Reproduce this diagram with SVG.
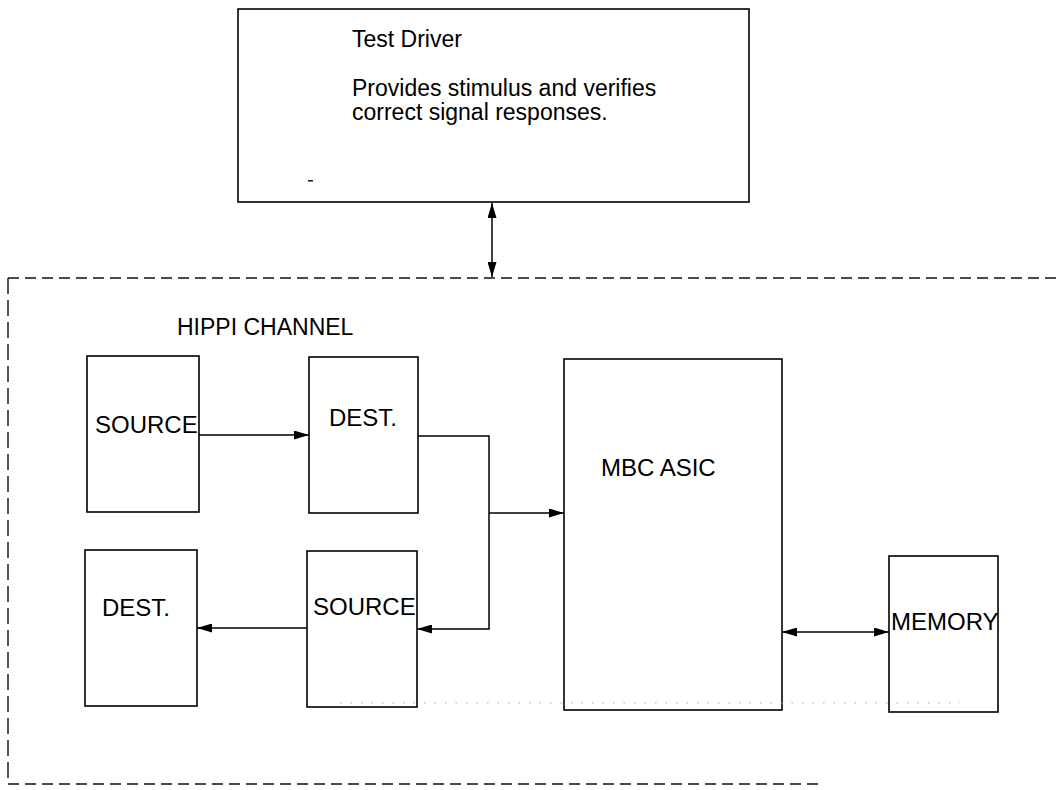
<svg xmlns="http://www.w3.org/2000/svg" width="1059" height="790" viewBox="0 0 1059 790">
  <style>
    .box { fill: #fff; stroke: #000; stroke-width: 1.6; }
    .lbl { font-family: "Liberation Sans", Arial, Helvetica, sans-serif; font-size: 24px; fill: #000; }
    .txt { font-family: "Liberation Sans", Arial, Helvetica, sans-serif; font-size: 23px; fill: #000; }
    .wire { fill: none; stroke: #000; stroke-width: 1.5; }
    .frame { fill: none; stroke: #111; stroke-width: 1.4; stroke-dasharray: 11 6; }
    .speck { fill: none; stroke: #aaa; stroke-width: 1.2; stroke-dasharray: 1.5 9; }
  </style>
  <defs>
    <marker id="arrow" viewBox="0 0 15 9" refX="15" refY="4.5" markerWidth="15" markerHeight="9" markerUnits="userSpaceOnUse" orient="auto-start-reverse">
      <path d="M0,0 L15,4.5 L0,9 Z" fill="#000"/>
    </marker>
  </defs>

  <!-- HIPPI channel boundary (open on the right) -->
  <g id="hippi-channel">
    <line class="frame" x1="8" y1="278" x2="1059" y2="278"/>
    <line class="frame" x1="8" y1="278" x2="8" y2="784" style="stroke-dasharray:16 6"/>
    <line class="frame" x1="8" y1="784" x2="820" y2="784"/>
    <text class="txt" x="177" y="335">HIPPI CHANNEL</text>
  </g>

  <g id="test-driver">
    <rect class="box" x="238" y="9" width="511" height="193"/>
    <text class="txt" x="352" y="47">Test Driver</text>
    <text class="txt" x="352" y="96">Provides stimulus and verifies</text>
    <text class="txt" x="352" y="120">correct signal responses.</text>
    <rect x="308" y="180" width="5" height="1.6" fill="#222"/>
  </g>

  <g id="source-top">
    <rect class="box" x="87" y="356" width="112" height="156"/>
    <text class="lbl" x="95" y="433">SOURCE</text>
  </g>

  <g id="dest-top">
    <rect class="box" x="309" y="357" width="109" height="156"/>
    <text class="lbl" x="329" y="426">DEST.</text>
  </g>

  <g id="dest-bottom">
    <rect class="box" x="85" y="550" width="112" height="156"/>
    <text class="lbl" x="102" y="616">DEST.</text>
  </g>

  <g id="source-bottom">
    <rect class="box" x="307" y="551" width="110" height="156"/>
    <text class="lbl" x="313" y="615">SOURCE</text>
  </g>

  <g id="mbc-asic">
    <rect class="box" x="564" y="359" width="218" height="351"/>
    <text class="lbl" x="601" y="476">MBC ASIC</text>
  </g>

  <g id="memory">
    <rect class="box" x="889" y="556" width="109" height="156"/>
    <text class="lbl" x="891" y="630">MEMORY</text>
  </g>

  <!-- faint dotted trace along the lower boxes -->
  <line class="speck" x1="340" y1="703" x2="960" y2="703"/>

  <g id="connectors">
    <!-- test driver <-> channel -->
    <line class="wire" x1="492" y1="203" x2="492" y2="277" marker-start="url(#arrow)" marker-end="url(#arrow)"/>
    <!-- source -> dest -->
    <line class="wire" x1="199" y1="435" x2="309" y2="435" marker-end="url(#arrow)"/>
    <!-- dest -> loop back to source -->
    <polyline class="wire" points="418,436 489,436 489,629 417,629" marker-end="url(#arrow)"/>
    <!-- branch into MBC ASIC -->
    <line class="wire" x1="489" y1="513" x2="564" y2="513" marker-end="url(#arrow)"/>
    <!-- source -> dest (bottom) -->
    <line class="wire" x1="307" y1="628" x2="197" y2="628" marker-end="url(#arrow)"/>
    <!-- MBC ASIC <-> memory -->
    <line class="wire" x1="782" y1="632" x2="889" y2="632" marker-start="url(#arrow)" marker-end="url(#arrow)"/>
  </g>
</svg>
